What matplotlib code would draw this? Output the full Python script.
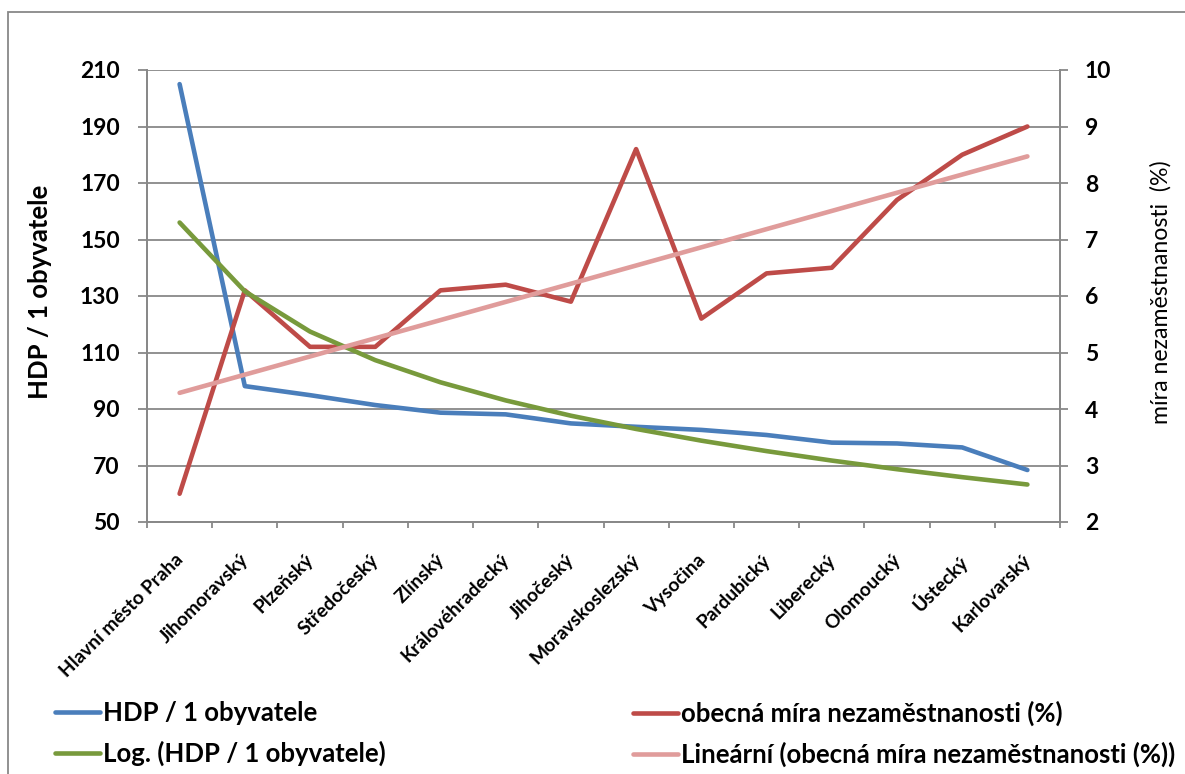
import numpy as np
import matplotlib
matplotlib.use('Agg')
import matplotlib.pyplot as plt
import matplotlib.transforms as mtransforms
from matplotlib.patches import Rectangle

plt.rcParams['font.family'] = ['Lato', 'DejaVu Sans']

# Data
kraje = ['Hlavní město Praha', 'Jihomoravský', 'Plzeňský', 'Středočeský', 'Zlínský',
         'Královéhradecký', 'Jihočeský', 'Moravskoslezský', 'Vysočina', 'Pardubický',
         'Liberecký', 'Olomoucký', 'Ústecký', 'Karlovarský']
hdp = [205, 98.1, 94.9, 91.4, 88.7, 88.1, 84.9, 83.7, 82.6, 80.8, 78.1, 77.8, 76.4, 68.4]
nezamestnanost = [2.5, 6.1, 5.1, 5.1, 6.1, 6.2, 5.9, 8.6, 5.6, 6.4, 6.5, 7.7, 8.5, 9.0]

x = np.arange(1, len(kraje) + 1)

# Trendlines like Excel: logarithmic for HDP, linear for unemployment
a, b = np.polyfit(np.log(x), hdp, 1)
hdp_log = a * np.log(x) + b
k, q = np.polyfit(x, nezamestnanost, 1)
nez_lin = k * x + q

c_blue = '#4A7EBB'
c_red = '#BE4B48'
c_green = '#789A3C'
c_pink = '#E09C9B'
c_grid = '#888888'

W, H = 1185, 774
fig = plt.figure(figsize=(W / 100, H / 100), dpi=100)
ax1 = fig.add_axes([147 / W, 1 - 522 / H, (1060 - 147) / W, (522 - 70) / H])
ax2 = ax1.twinx()

lw = 3.3
# all lines on ax2 so the layering matches (series, then trendlines)
l1, = ax2.plot(x, hdp, color=c_blue, lw=lw, solid_capstyle='round', transform=ax1.transData)
l2, = ax2.plot(x, nezamestnanost, color=c_red, lw=lw, solid_capstyle='round')
l3, = ax2.plot(x, hdp_log, color=c_green, lw=lw, solid_capstyle='round', transform=ax1.transData)
l4, = ax2.plot(x, nez_lin, color=c_pink, lw=lw, solid_capstyle='round')

ax1.set_xlim(0.5, 14.5)
ax1.set_ylim(50, 210)
ax1.set_yticks(range(50, 211, 20))
ax2.set_ylim(2, 10)
ax2.set_yticks(range(2, 11))

ax1.grid(axis='y', color=c_grid, lw=1.3)
ax1.set_axisbelow(True)

for ax in (ax1, ax2):
    ax.spines['top'].set_visible(False)
    for s in ('left', 'right', 'bottom'):
        ax.spines[s].set_color(c_grid)
        ax.spines[s].set_linewidth(1.3)

ax1.tick_params(axis='y', direction='out', length=6.5, width=1.3, color=c_grid, pad=13,
                labelsize=16.5)
ax2.tick_params(axis='y', direction='out', length=6, width=1.3, color=c_grid, pad=12,
                labelsize=16.5)
for lbl in ax1.get_yticklabels() + ax2.get_yticklabels():
    lbl.set_fontweight('bold')

ax1.set_xticks(x)
ax1.set_xticks(np.arange(0.5, 15, 1), minor=True)
ax1.tick_params(axis='x', which='major', length=0, pad=21)
ax1.tick_params(axis='x', which='minor', length=4.5, width=1.3, color=c_grid, direction='out')
ax1.set_xticklabels(kraje, rotation=45, ha='right', va='top', rotation_mode='anchor',
                    fontsize=13.8, fontweight='bold')
offset = mtransforms.ScaledTranslation(-0.05, 0, fig.dpi_scale_trans)
for lbl in ax1.get_xticklabels():
    lbl.set_transform(lbl.get_transform() + offset)

mid_y = 1 - 292 / H
ax1.set_ylabel('HDP / 1 obyvatele', fontsize=18.5, fontweight='bold')
ax1.yaxis.set_label_coords(52 / W, mid_y, transform=fig.transFigure)
ax2.set_ylabel('míra nezaměstnanosti  (%)', fontsize=16.7, rotation=90)
ax2.yaxis.set_label_coords(1150 / W, mid_y, transform=fig.transFigure)

leg_kw = dict(loc='upper left', ncol=1, frameon=False, borderpad=0, borderaxespad=0,
              handlelength=1.75, handletextpad=0.12, labelspacing=0.61,
              prop={'size': 18.5, 'weight': 'bold'})
fig.legend([l1, l3], ['HDP / 1 obyvatele', 'Log. (HDP / 1 obyvatele)'],
           bbox_to_anchor=(55 / W, 1 - 701 / H), **leg_kw)
fig.legend([l2, l4], ['obecná míra nezaměstnanosti (%)',
                      'Lineární (obecná míra nezaměstnanosti (%))'],
           bbox_to_anchor=(633 / W, 1 - 701 / H), **leg_kw)

# outer chart frame
fig.patches.append(Rectangle((8 / W, -0.1), 1.2, 1.1 - 12 / H, transform=fig.transFigure,
                             fill=False, edgecolor=c_grid, lw=1.3))

fig.savefig('out.png', dpi=100)
